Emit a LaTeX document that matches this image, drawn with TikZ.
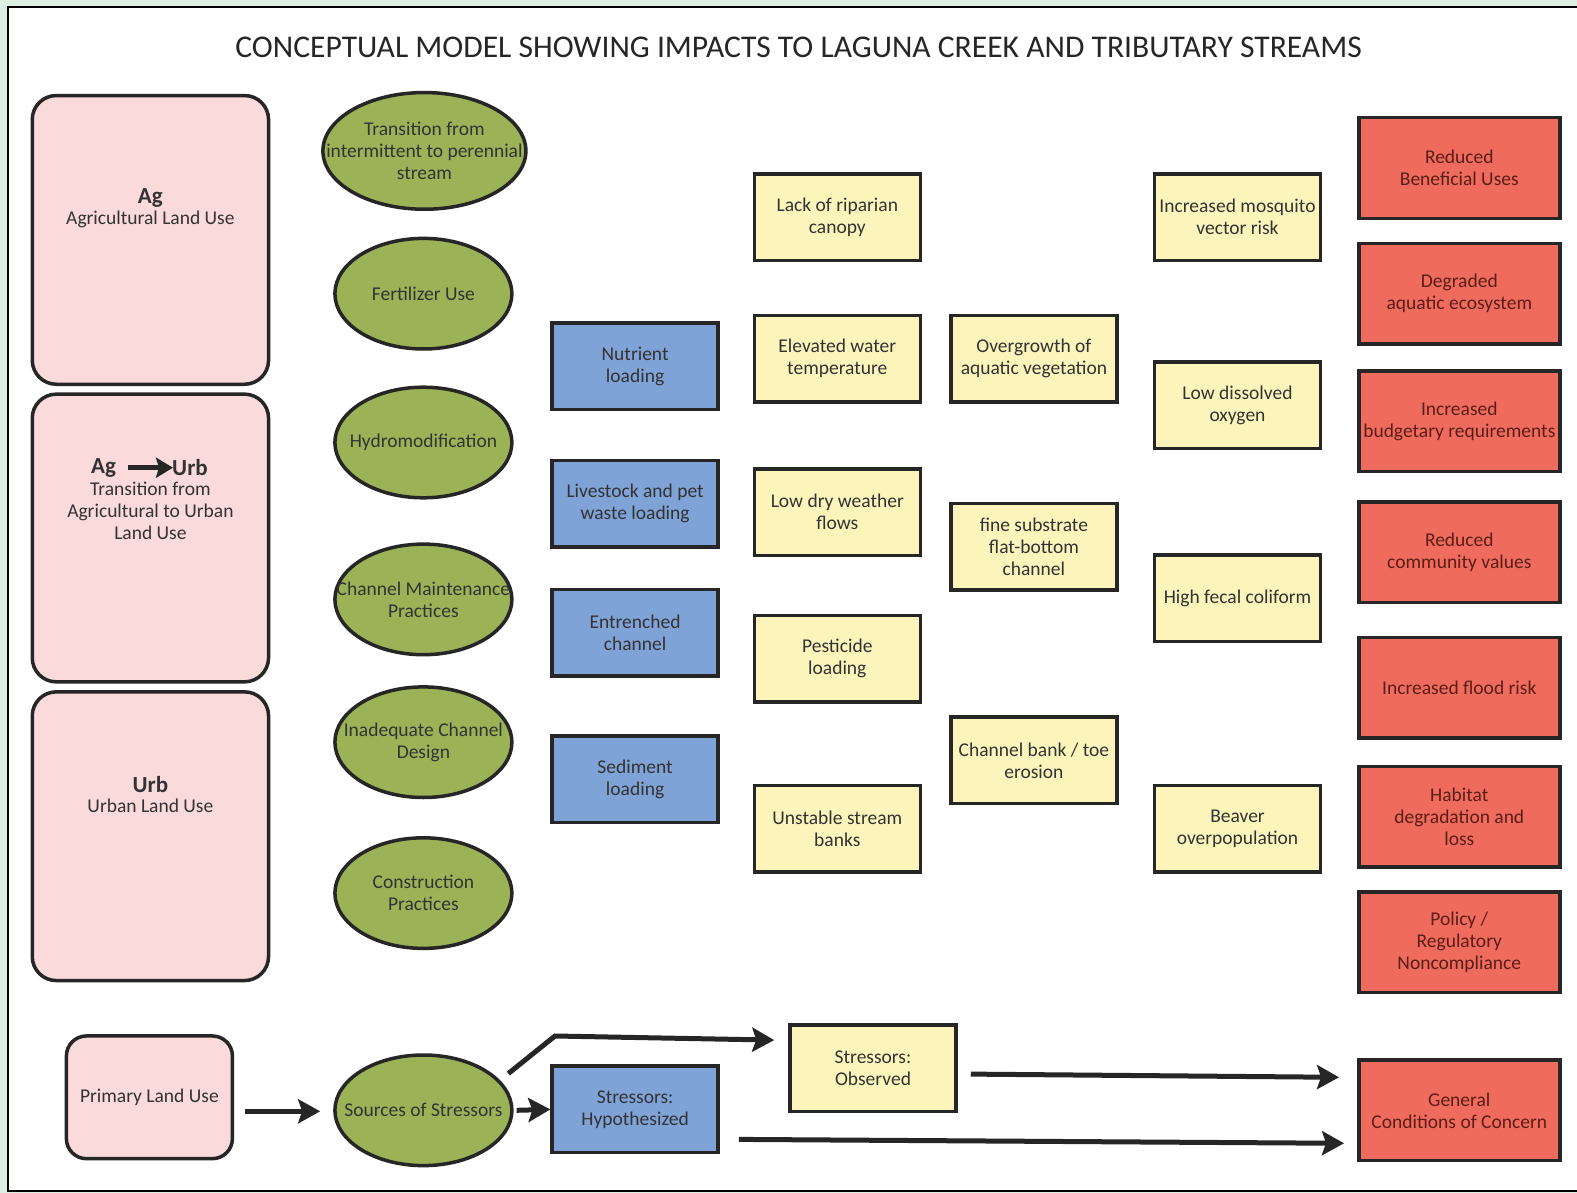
\documentclass[tikz,border=0pt]{standalone}
\usepackage{fontspec}
\setmainfont{Carlito}
\usetikzlibrary{shapes.geometric,arrows.meta}
\definecolor{bgg}{HTML}{DDEFE2}
\definecolor{bord}{HTML}{262626}
\definecolor{txt}{HTML}{333333}
\definecolor{redtxt}{HTML}{5A1E16}
\definecolor{cpink}{HTML}{FADADB}
\definecolor{cgreen}{HTML}{9BB257}
\definecolor{cblue}{HTML}{7FA2D7}
\definecolor{cyel}{HTML}{FBF5BC}
\definecolor{cred}{HTML}{EF6B5D}
\begin{document}
\begin{tikzpicture}[x=1pt,y=1pt,
  bx/.style={draw=bord, line width=3.5pt, inner sep=0pt, align=center, text=txt,
    font=\fontsize{19.5}{22}\selectfont},
  bluebox/.style={bx, fill=cblue, minimum width=166pt, minimum height=86.5pt},
  yelbox/.style={bx, fill=cyel, minimum width=166pt, minimum height=86.5pt},
  redbox/.style={bx, fill=cred, text=redtxt, minimum width=201pt, minimum height=100.6pt},
  ell/.style={draw=bord, line width=3.5pt, inner sep=0pt, ellipse, fill=cgreen,
    minimum width=177pt, minimum height=110.6pt},
  pinkbox/.style={draw=bord, line width=3.5pt, fill=cpink, rounded corners=24pt,
    minimum width=236.3pt, inner sep=0pt},
  lbl/.style={inner sep=0pt, text=txt, align=center, font=\fontsize{19.5}{22}\selectfont},
  bld/.style={lbl, font=\fontsize{23}{24}\selectfont\bfseries},
  arr/.style={line width=5pt, draw=bord, -{Stealth[length=22pt,width=24pt,inset=4pt]}},
]
\useasboundingbox (0,0) rectangle (1577,-1193);
% background and panel
\fill[bgg] (0,0) rectangle (1577,-1193);
\draw[line width=2.5pt, fill=white] (8,-7) rectangle (1590,-1191);

% title
\node[inner sep=0pt, text=bord, font=\fontsize{31.6}{36}\selectfont] (title) at (798.6,-47.3)
  {CONCEPTUAL MODEL SHOWING IMPACTS TO LAGUNA CREEK AND TRIBUTARY STREAMS};

% land use boxes
\node[pinkbox, minimum height=288.7pt] (ag) at (150.4,-239.9) {};
\node[pinkbox, minimum height=287.7pt] (agurb) at (150.4,-538.0) {};
\node[pinkbox, minimum height=288.7pt] (urb) at (150.4,-836.2) {};
\node[bld] (agt) at (150.4,-198) {Ag};
\node[lbl] (agd) at (150.4,-219.5) {Agricultural Land Use};
\node[bld] (ag2) at (103.6,-467.7) {Ag};
\node[bld] (urb2) at (190,-467.7) {Urb};
\draw[line width=5pt, draw=bord, -{Stealth[length=17pt,width=20pt,inset=3pt]}] ([xshift=12pt]ag2.east) -- ([xshift=1pt]urb2.west);
\node[lbl] (agurbd) at (150.4,-511) {Transition from\\Agricultural to Urban\\Land Use};
\node[bld] (urbt) at (150.4,-784.5) {Urb};
\node[lbl] (urbd) at (150.4,-805.6) {Urban Land Use};

% sources (ellipses)
\node[ell, minimum width=203pt, minimum height=116.7pt,
  label={[lbl]center:Transition from\\intermittent to perennial\\stream}] (e1) at (424.4,-150.9) {};
\node[ell, label={[lbl]center:Fertilizer Use}] (e2) at (423.4,-293.7) {};
\node[ell, label={[lbl]center:Hydromodification}] (e3) at (423.4,-442.5) {};
\node[ell, label={[lbl]center:Channel Maintenance\\Practices}] (e4) at (423.4,-599.4) {};
\node[ell, label={[lbl]center:Inadequate Channel\\Design}] (e5) at (423.4,-742.2) {};
\node[ell, label={[lbl]center:Construction\\Practices}] (e6) at (423.4,-893.1) {};

% hypothesized stressors
\node[bluebox] (b1) at (635.1,-366.0) {Nutrient\\loading};
\node[bluebox] (b2) at (635.1,-503.8) {Livestock and pet\\waste loading};
\node[bluebox] (b3) at (635.1,-632.6) {Entrenched\\channel};
\node[bluebox] (b4) at (635.1,-779.4) {Sediment\\loading};

% observed stressors column 1
\node[yelbox] (y1) at (837.3,-217.3) {Lack of riparian\\canopy};
\node[yelbox] (y2) at (837.3,-358.5) {Elevated water\\temperature};
\node[yelbox] (y3) at (837.3,-512.0) {Low dry weather\\flows};
\node[yelbox] (y4) at (837.3,-658.7) {Pesticide\\loading};
\node[yelbox] (y5) at (837.3,-828.7) {Unstable stream\\banks};

% column 2
\node[yelbox] (y6) at (1033.9,-358.5) {Overgrowth of\\aquatic vegetation};
\node[yelbox] (y7) at (1033.9,-546.6) {fine substrate\\flat-bottom\\channel};
\node[yelbox] (y8) at (1033.9,-760.3) {Channel bank / toe\\erosion};

% column 3
\node[yelbox] (y9) at (1237.5,-217.3) {Increased mosquito\\vector risk};
\node[yelbox] (y10) at (1237.5,-405.3) {Low dissolved\\oxygen};
\node[yelbox] (y11) at (1237.5,-598.4) {High fecal coliform};
\node[yelbox] (y12) at (1237.5,-828.7) {Beaver\\overpopulation};

% conditions of concern
\node[redbox] (r1) at (1459.3,-168.0) {Reduced\\Beneficial Uses};
\node[redbox] (r2) at (1459.3,-293.7) {Degraded\\aquatic ecosystem};
\node[redbox] (r3) at (1459.3,-421.4) {Increased\\budgetary requirements};
\node[redbox] (r4) at (1459.3,-552.1) {Reduced\\community values};
\node[redbox] (r5) at (1459.3,-687.9) {Increased flood risk};
\node[redbox] (r6) at (1459.3,-816.7) {Habitat\\degradation and\\loss};
\node[redbox] (r7) at (1459.3,-942.4) {Policy /\\Regulatory\\Noncompliance};

% legend
\node[pinkbox, rounded corners=20pt, minimum width=166pt, minimum height=122.7pt, lbl] (prim) at (149.4,-1097.3) {Primary Land Use};
\node[ell, label={[lbl]center:Sources of Stressors}] (src) at (423.4,-1110.3) {};
\node[bluebox] (hyp) at (635.1,-1109.4) {Stressors:\\Hypothesized};
\node[yelbox] (obs) at (873.0,-1068.1) {Stressors:\\Observed};
\node[redbox] (gen) at (1459.3,-1110.3) {General\\Conditions of Concern};
\coordinate (bend) at (555,-1036);

\draw[arr] ([xshift=11pt,yshift=-14pt]prim.east) -- ([xshift=-13pt,yshift=-1pt]src.west);
\draw[arr] ([xshift=3pt]src.east) -- (hyp.west);
\draw[arr] ([shift={(10pt,5pt)}]src.23) -- (bend) -- ([xshift=-14pt,yshift=28pt]obs.west);
\draw[arr] ([xshift=13pt,yshift=-6pt]obs.east) -- ([xshift=-18pt,yshift=33pt]gen.west);
\draw[arr] ([xshift=19pt,yshift=-30pt]hyp.east) -- ([xshift=-13pt,yshift=-33pt]gen.west);
\end{tikzpicture}
\end{document}
